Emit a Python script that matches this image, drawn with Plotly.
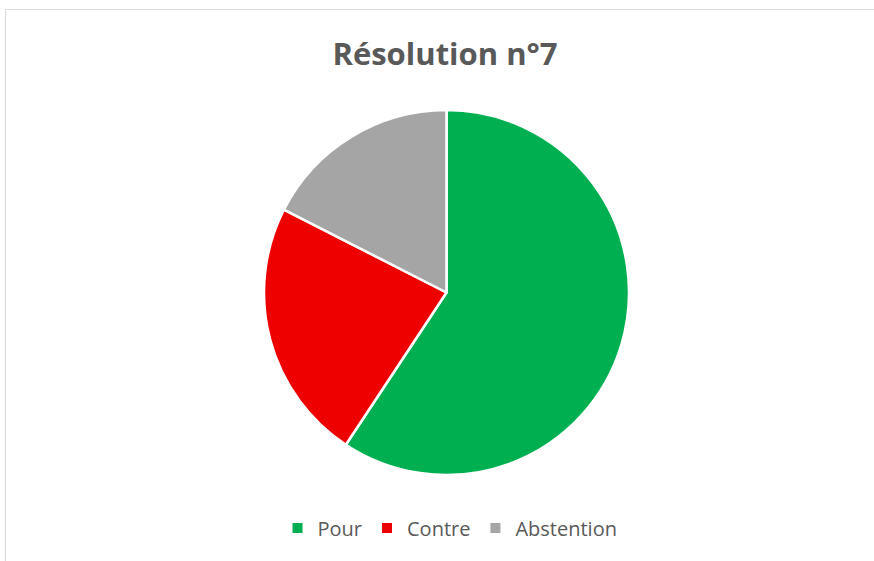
import plotly.graph_objects as go

labels = ["Pour", "Contre", "Abstention"]
values = [59.3, 23.2, 17.5]
colors = ["#00B050", "#EE0000", "#A5A5A5"]

W, H = 874, 561
cx, cy, r = 446.5, 292.5, 182.5

fig = go.Figure(go.Pie(
    labels=labels, values=values, sort=False, direction="clockwise", rotation=0,
    marker=dict(colors=colors, line=dict(color="white", width=2.5)),
    textinfo="none", hoverinfo="label+percent",
    domain=dict(x=[(cx - r) / W, (cx + r) / W], y=[(H - cy - r) / H, (H - cy + r) / H]),
))

fig.update_layout(
    width=W, height=H,
    margin=dict(l=0, r=0, t=0, b=0),
    paper_bgcolor="white", plot_bgcolor="white",
    title=dict(text="<b>Résolution n°7</b>", x=445 / W, xanchor="center",
               y=1 - 54 / H, yanchor="middle",
               font=dict(family="Open Sans", size=31, color="#595959")),
    legend=dict(orientation="h", x=450 / W, xanchor="center", y=1 - 528 / H, yanchor="middle",
                font=dict(family="Open Sans", size=20, color="#595959"),
                itemsizing="constant", traceorder="normal"),
    shapes=[dict(type="rect", xref="paper", yref="paper",
                 x0=5.5 / W, x1=1.02, y0=-0.02, y1=1 - 9.5 / H,
                 line=dict(color="#D9D9D9", width=1), layer="below")],
)

fig.write_html("out.html", config={"displayModeBar": False},
               post_script="document.body.style.margin='0';document.body.style.overflow='hidden';")
